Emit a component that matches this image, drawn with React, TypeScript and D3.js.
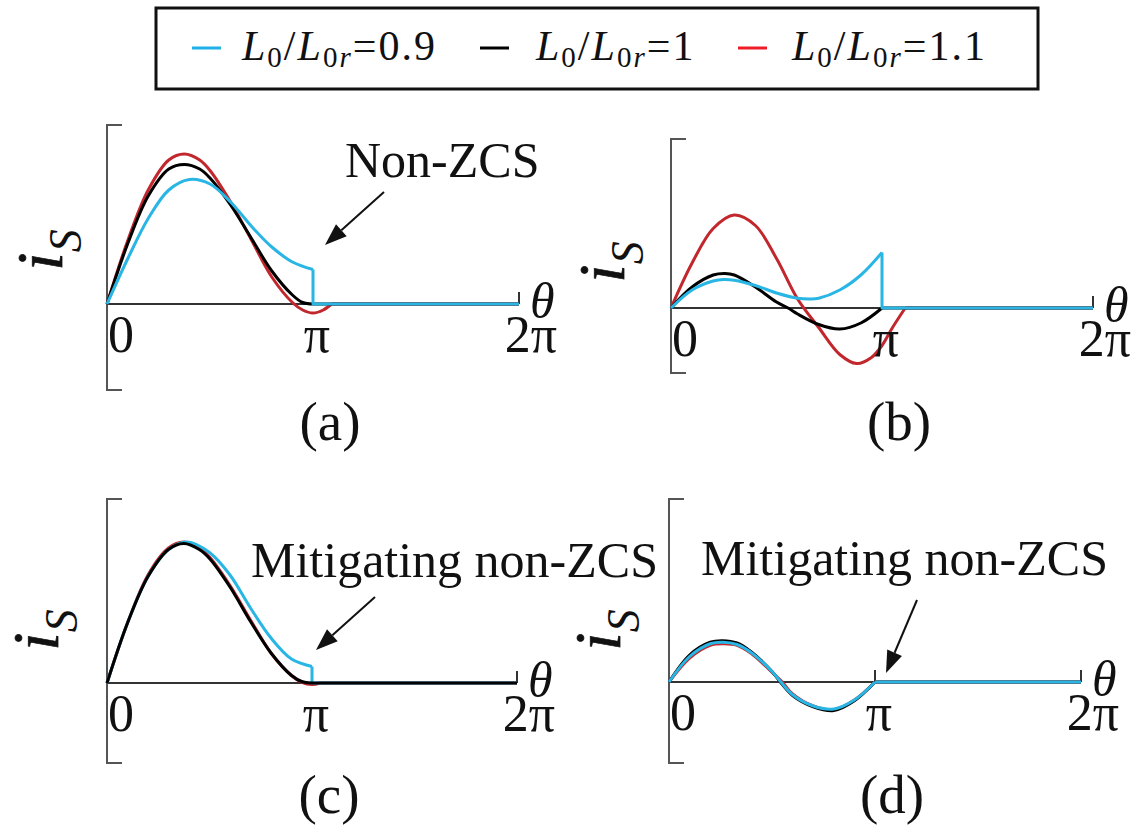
import * as d3 from "d3";

type Pt = [number, number];

// theta in units of pi, current normalised so 1 = red peak in (a)
const aCyan: Pt[] = [[0, 0], [0.1, 0.3], [0.2, 0.57], [0.3, 0.76], [0.4, 0.83], [0.5, 0.8], [0.6, 0.68], [0.7, 0.52], [0.8, 0.38], [0.9, 0.28], [1, 0.23]];
const aBlack: Pt[] = [[0, 0], [0.1, 0.4], [0.2, 0.72], [0.3, 0.9], [0.375, 0.93], [0.45, 0.9], [0.5, 0.84], [0.6, 0.66], [0.7, 0.44], [0.8, 0.22], [0.9, 0.06], [0.95, 0.01], [1, 0]];
const aRed: Pt[] = [[0, 0], [0.1, 0.42], [0.2, 0.76], [0.3, 0.96], [0.375, 1.0], [0.45, 0.96], [0.5, 0.89], [0.6, 0.68], [0.7, 0.43], [0.8, 0.18], [0.9, 0.01], [0.95, -0.04], [1, -0.06], [1.05, -0.04], [1.09, 0]];

const bCyan: Pt[] = [[0, 0], [0.1, 0.12], [0.2, 0.18], [0.25, 0.19], [0.3, 0.185], [0.4, 0.15], [0.5, 0.1], [0.6, 0.065], [0.66, 0.06], [0.7, 0.065], [0.8, 0.12], [0.9, 0.22], [1, 0.37]];
const bBlack: Pt[] = [[0, 0], [0.1, 0.14], [0.2, 0.22], [0.256, 0.23], [0.3, 0.22], [0.4, 0.14], [0.5, 0.04], [0.555, 0], [0.6, -0.04], [0.7, -0.11], [0.8, -0.14], [0.9, -0.1], [1, 0]];
const bRed: Pt[] = [[0, 0], [0.1, 0.3], [0.2, 0.53], [0.3, 0.62], [0.4, 0.55], [0.5, 0.33], [0.6, 0.06], [0.7, -0.13], [0.8, -0.31], [0.88, -0.37], [0.95, -0.33], [1, -0.25], [1.05, -0.13], [1.11, 0]];

const cCyan: Pt[] = [[0, 0], [0.1, 0.4], [0.2, 0.71], [0.3, 0.89], [0.39, 0.94], [0.5, 0.87], [0.6, 0.72], [0.7, 0.5], [0.8, 0.3], [0.9, 0.16], [1, 0.11]];
const cBlack: Pt[] = [[0, 0], [0.1, 0.4], [0.2, 0.71], [0.3, 0.89], [0.375, 0.93], [0.45, 0.89], [0.5, 0.83], [0.6, 0.64], [0.7, 0.41], [0.8, 0.2], [0.9, 0.05], [0.95, 0.01], [1, 0]];
const cRed: Pt[] = [[0, 0], [0.1, 0.4], [0.2, 0.72], [0.3, 0.9], [0.375, 0.94], [0.45, 0.9], [0.5, 0.84], [0.6, 0.65], [0.7, 0.42], [0.8, 0.2], [0.9, 0.05], [0.95, 0.005], [1, -0.01], [1.04, 0]];

const dCyan: Pt[] = [[0, 0], [0.1, 0.17], [0.2, 0.255], [0.26, 0.265], [0.33, 0.25], [0.4, 0.195], [0.5, 0.07], [0.54, 0.005], [0.6, -0.085], [0.7, -0.16], [0.8, -0.18], [0.9, -0.12], [1, 0]];
const dBlack: Pt[] = [[0, 0], [0.1, 0.18], [0.2, 0.265], [0.26, 0.275], [0.33, 0.26], [0.4, 0.2], [0.5, 0.07], [0.54, 0], [0.6, -0.09], [0.7, -0.165], [0.8, -0.19], [0.9, -0.125], [1, 0]];
const dRed: Pt[] = [[0, 0], [0.1, 0.16], [0.2, 0.245], [0.27, 0.255], [0.33, 0.245], [0.4, 0.19], [0.5, 0.065], [0.55, 0], [0.6, -0.08], [0.7, -0.16], [0.8, -0.185], [0.9, -0.12], [1, 0]];

const ratios = ["0.9", "1", "1.1"];
const colors = ["#29b6e4", "#000000", "#c1272d"];
const legendColors = ["#1fb0ea", "#000000", "#ee1c25"];
const tickValues = [0, 1, 2];
const tickLabels = ["0", "π", "2π"];
const captions = ["(a)", "(b)", "(c)", "(d)"];
const notes = ["Non-ZCS", "", "Mitigating non-ZCS", "Mitigating non-ZCS"];

const serif = "'Liberation Serif', 'Times New Roman', serif";

type Panel = {
  series: Pt[][]; // cyan, black, red
  order: number[];
  x0: number; piW: number; y0: number; top: number; bottom: number;
  labelX: number; labelY: number;
  capY: number;
  note?: { x: number; y: number; from: Pt; to: Pt };
};

const panels: Panel[] = [
  { series: [aCyan, aBlack, aRed], order: [2, 1, 0], x0: 107, piW: 206, y0: 304, top: 125, bottom: 390, labelX: 62, labelY: 250, capY: 440,
    note: { x: 345, y: 177, from: [384, 192], to: [325, 245] } },
  { series: [bCyan, bBlack, bRed], order: [2, 1, 0], x0: 671, piW: 211, y0: 308, top: 139, bottom: 373, labelX: 624, labelY: 262, capY: 440 },
  { series: [cCyan, cBlack, cRed], order: [2, 0, 1], x0: 107, piW: 205, y0: 683, top: 499, bottom: 763, labelX: 58, labelY: 630, capY: 813,
    note: { x: 251, y: 577, from: [375, 597], to: [316, 650] } },
  { series: [dCyan, dBlack, dRed], order: [2, 1, 0], x0: 669, piW: 206, y0: 682, top: 499, bottom: 763, labelX: 620, labelY: 630, capY: 813,
    note: { x: 701, y: 575, from: [917, 600], to: [886, 673] } },
];

function Arrow({ from, to }: { from: Pt; to: Pt }) {
  const ang = Math.atan2(to[1] - from[1], to[0] - from[0]);
  const len = 22, half = 8;
  const bx = to[0] - len * Math.cos(ang), by = to[1] - len * Math.sin(ang);
  const nx = -Math.sin(ang), ny = Math.cos(ang);
  return (
    <g>
      <line x1={from[0]} y1={from[1]} x2={bx} y2={by} stroke="#111" strokeWidth={2} />
      <path d={`M${to[0]},${to[1]}L${bx + nx * half},${by + ny * half}L${bx - nx * half},${by - ny * half}Z`} fill="#111" />
    </g>
  );
}

function PanelView({ p, i }: { p: Panel; i: number }) {
  const x = d3.scaleLinear().domain([0, 2]).range([p.x0, p.x0 + 2 * p.piW]);
  const y = d3.scaleLinear().domain([-1, 1]).range([p.y0 + 150, p.y0 - 150]);
  const smooth = d3.line<Pt>().x((d) => x(d[0])).y((d) => y(d[1])).curve(d3.curveCatmullRom.alpha(0.5));
  const straight = d3.line<Pt>().x((d) => x(d[0])).y((d) => y(d[1]));
  return (
    <g>
      <path d={`M${p.x0 + 15},${p.top}H${p.x0}V${p.bottom}H${p.x0 + 15}`} fill="none" stroke="#555" strokeWidth={2} />
      <path d={`M${x(0)},${p.y0}H${x(2)}`} stroke="#333" strokeWidth={2} />
      {tickValues.slice(1).map((t) => (
        <line key={t} x1={x(t)} x2={x(t)} y1={p.y0} y2={p.y0 - 12} stroke="#333" strokeWidth={2} />
      ))}
      {p.order.map((k) => {
        const pts = p.series[k];
        const last = pts[pts.length - 1];
        return (
          <g key={k} fill="none" stroke={colors[k]} strokeWidth={3} strokeLinejoin="round">
            <path d={smooth(pts) ?? ""} />
            <path d={straight([last, [last[0], 0], [2, 0]]) ?? ""} />
          </g>
        );
      })}
      {tickValues.map((t, j) => (
        <text key={t} x={j === 0 ? x(t) + 1 : j === 1 ? x(t) + 4 : x(t) + 12} y={p.y0 + 48}
          textAnchor={j === 0 ? "start" : "middle"} fontFamily={serif} fontSize={52} fill="#111">
          {tickLabels[j]}
        </text>
      ))}
      <text x={x(2) + 11} y={p.y0 + 14} fontFamily={serif} fontStyle="italic" fontSize={50} fill="#111">θ</text>
      <text transform={`translate(${p.labelX},${p.labelY}) rotate(-90)`} textAnchor="middle" fontFamily={serif} fill="#111">
        <tspan fontStyle="italic" fontSize={66} stroke="#111" strokeWidth={0.8}>i</tspan>
        <tspan fontStyle="italic" fontSize={46} dy={19}>S</tspan>
      </text>
      <text x={x(1) + 17} y={p.capY} textAnchor="middle" fontFamily={serif} fontSize={55} fill="#111">{captions[i]}</text>
      {p.note && (
        <g>
          <text x={p.note.x} y={p.note.y} fontFamily={serif} fontSize={50} fill="#111">{notes[i]}</text>
          <Arrow from={p.note.from} to={p.note.to} />
        </g>
      )}
    </g>
  );
}

function Legend() {
  const dashX = [192, 480, 738];
  const textX = [242, 536, 792];
  return (
    <g>
      <rect x={156} y={8} width={882} height={81} fill="#fff" stroke="#111" strokeWidth={3} />
      {ratios.map((r, k) => (
        <g key={r}>
          <line x1={dashX[k]} x2={dashX[k] + 29} y1={48} y2={48} stroke={legendColors[k]} strokeWidth={3} />
          <text x={textX[k]} y={60} fontFamily={serif} fontSize={42} fill="#111" letterSpacing={2}>
            <tspan fontStyle="italic">L</tspan>
            <tspan fontSize={29} dy={7}>0</tspan>
            <tspan dy={-7}>/</tspan>
            <tspan fontStyle="italic">L</tspan>
            <tspan fontSize={29} dy={7}>0</tspan>
            <tspan fontSize={29} fontStyle="italic">r</tspan>
            <tspan dy={-7}>={r}</tspan>
          </text>
        </g>
      ))}
    </g>
  );
}

export default function App() {
  return (
    <svg width={1141} height={836} style={{ position: "absolute", left: 0, top: 0, background: "#fff" }}>
      <Legend />
      {panels.map((p, i) => (
        <PanelView key={i} p={p} i={i} />
      ))}
    </svg>
  );
}
